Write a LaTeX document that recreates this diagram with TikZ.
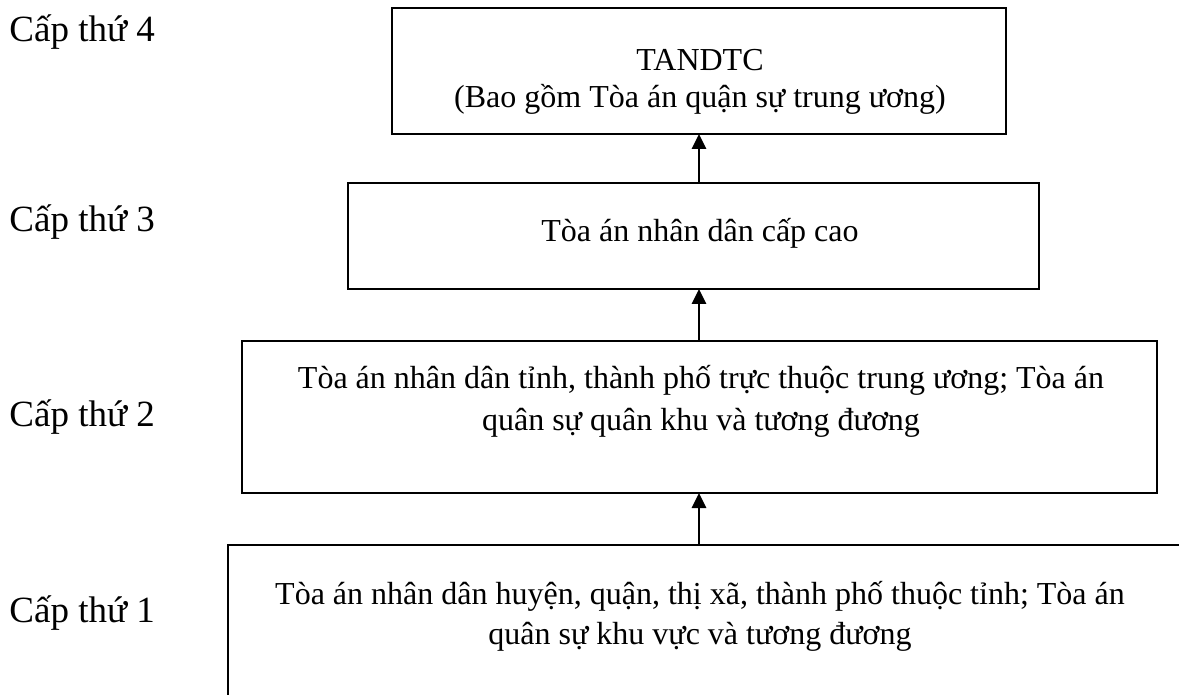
\documentclass[tikz,border=0pt]{standalone}
\usepackage{fontspec}
\setmainfont{Liberation Serif}
\usetikzlibrary{arrows.meta}
\tikzset{
  box/.style={draw, line width=1.1pt, rectangle, inner sep=0pt, outer sep=0pt},
  lvl/.style={anchor=base west, inner sep=0pt, font=\fontsize{18.5pt}{22pt}\selectfont},
  txt/.style={anchor=base, inner sep=0pt, font=\fontsize{16pt}{19pt}\selectfont},
  arr/.style={line width=1.4pt, -{Triangle[length=7.5pt,width=7pt]}}
}
\begin{document}
\begin{tikzpicture}[x=0.5pt,y=-0.5pt]
\useasboundingbox (0,0) rectangle (1179,695);
\clip (0,0) rectangle (1179,695);
% boxes
\node[box, minimum width=307pt, minimum height=63pt] (b4) at (699,71) {};
\node[box, minimum width=345.5pt, minimum height=53pt] (b3) at (693.5,236) {};
\node[box, minimum width=457.5pt, minimum height=76pt] (b2) at (699.5,417) {};
\node[box, minimum width=550pt, minimum height=150pt] (b1) at (778,695) {};
% level labels
\node[lvl] (l4) at (9,42) {Cấp thứ 4};
\node[lvl] (l3) at (9,232) {Cấp thứ 3};
\node[lvl] (l2) at (9,427) {Cấp thứ 2};
\node[lvl] (l1) at (9,622) {Cấp thứ 1};
% box texts
\node[txt] (t4a) at (700,71) {TANDTC};
\node[txt] (t4b) at (700,108) {(Bao gồm Tòa án quận sự trung ương)};
\node[txt] (t3) at (700,242) {Tòa án nhân dân cấp cao};
\node[txt] (t2a) at (701,389) {Tòa án nhân dân tỉnh, thành phố trực thuộc trung ương; Tòa án};
\node[txt] (t2b) at (701,430) {quân sự quân khu và tương đương};
\node[txt] (t1a) at (700,604) {Tòa án nhân dân huyện, quận, thị xã, thành phố thuộc tỉnh; Tòa án};
\node[txt] (t1b) at (700,644) {quân sự khu vực và tương đương};
% arrows
\draw[arr] (b3.north -| b4.south) -- (b4.south);
\draw[arr] (b2.north -| b4.south) -- (b3.south -| b4.south);
\draw[arr] (b1.north -| b4.south) -- (b2.south -| b4.south);
\end{tikzpicture}
\end{document}
